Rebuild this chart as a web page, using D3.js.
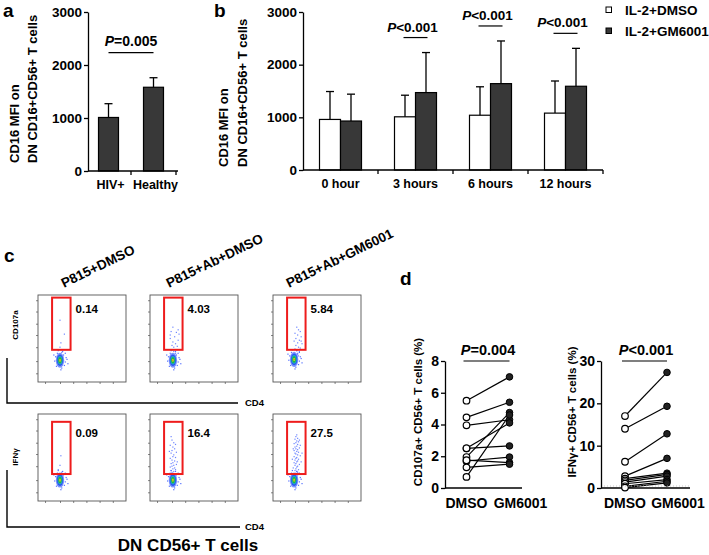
<!DOCTYPE html>
<html><head><meta charset="utf-8">
<script src="https://cdn.jsdelivr.net/npm/d3@7"></script>
<style>
body{margin:0;background:#fff}
svg text{font-family:"Liberation Sans",Arial,sans-serif;font-weight:bold;fill:#000}
</style></head><body>
<svg id="chart" width="709" height="555"></svg>
<script>
// ---------- DATA ----------
// panel a
const groupsA = ["HIV+", "Healthy"];
const meanA = [1010, 1580];
const errA = [1270, 1760];
const pA = "=0.005";
const yTicksAB = [0, 1000, 2000, 3000];
// panel b
const timesB = ["0 hour", "3 hours", "6 hours", "12 hours"];
const seriesB = ["IL-2+DMSO", "IL-2+GM6001"];
const dmsoMeanB = [960, 1010, 1040, 1080];
const dmsoErrB = [1490, 1420, 1580, 1690];
const gmMeanB = [930, 1470, 1640, 1590];
const gmErrB = [1440, 2230, 2450, 2310];
const pB = [null, "<0.001", "<0.001", "<0.001"];
// panel c
const flowCols = ["P815+DMSO", "P815+Ab+DMSO", "P815+Ab+GM6001"];
const flowRows = ["CD107a", "IFNγ"];
const gatePct = [["0.14", "4.03", "5.84"], ["0.09", "16.4", "27.5"]];
const gateXRange = [16, 37];
const gateYRange = [[37, 97], [31, 91]];
const blobCenters = [[[25, 25], [26, 25], [24, 26]], [[25, 24], [26, 24], [24, 24]]];
const blobSpread = [[-5,4],[4,6],[6,-2],[-4,-7],[7,3],[2,-9],[-6,-1],[3,10],[8,1],[-2,11],[1,-11],[9,-4],[-7,6],[5,-6],[-3,8],[6,8]];
const flowXTicks = [8, 25, 40, 55, 70, 85];
const flowYTicks = [10, 24, 40, 54, 67, 81, 94];
const events = [
  [
    [[25,71],[30,55],[26,45],[25,40],[23,37],[27,34]],
    [[26,63],[24,58],[30,57],[33,55],[28,52],[23,50],[32,48],[26,46],[29,44],[25,42],[31,41],[27,40],[26,37],[23,54],[32,60],[27,35],[29,33],[24,31]],
    [[27,63],[29,60],[31,58],[25,56],[28,54],[32,52],[26,50],[30,48],[24,47],[28,45],[33,44],[26,42],[29,40],[31,39],[25,38],[27,36],[30,35],[24,34],[28,33],[26,31],[29,30],[32,47]]
  ],
  [
    [[26,52],[25,41],[23,36],[27,33]],
    [[24,74],[25,70],[27,67],[23,64],[26,62],[28,60],[25,58],[30,56],[24,55],[27,53],[26,51],[29,50],[23,49],[25,47],[28,46],[26,44],[24,43],[30,42],[27,41],[25,40],[23,39],[28,38],[26,37],[29,36],[24,35],[27,34],[25,33],[31,45],[22,57],[29,65]],
    [[27,76],[26,74],[28,72],[25,71],[27,69],[29,68],[26,67],[24,66],[28,65],[27,63],[25,62],[30,61],[26,60],[28,59],[24,58],[27,57],[29,56],[25,55],[26,54],[28,53],[31,52],[24,51],[27,50],[26,49],[29,48],[25,47],[28,46],[27,45],[24,44],[26,43],[30,42],[25,41],[28,40],[27,39],[23,38],[26,37],[29,36],[25,35],[27,34],[28,33],[26,32],[24,31],[33,55],[32,45],[22,48],[30,70],[31,64],[23,60]]
  ]
];
// panel d
const treatD = ["DMSO", "GM6001"];
const cd107Dmso = [5.5, 4.45, 3.95, 2.5, 2.5, 1.95, 0.7, 1.7, 1.75, 1.3];
const cd107Gm = [7.0, 5.4, 4.3, 2.65, 4.1, 4.75, 4.6, 1.95, 1.6, 1.5];
const ifnDmso = [17.0, 14.0, 6.2, 2.8, 2.2, 1.8, 1.4, 1.0, 0.4, 0.1];
const ifnGm = [27.3, 19.3, 12.8, 7.0, 3.5, 3.2, 2.8, 2.0, 1.6, 1.2];
const yTicksD1 = [0, 2, 4, 6, 8];
const yTicksD2 = [0, 10, 20, 30];
const pD = ["=0.004", "<0.001"];

// ---------- DRAW ----------
const svg = d3.select("#chart");
svg.append("rect").attr("width", 709).attr("height", 555).attr("fill", "#fff");
const DARK = "#383838";
const fmt = d3.format("d");

function styleAxis(g, fs) {
  g.select(".domain").attr("stroke", "#000").attr("stroke-width", 1.3);
  g.selectAll(".tick line").attr("stroke", "#000").attr("stroke-width", 1.3);
  g.selectAll(".tick text").attr("font-size", fs).attr("fill", "#000");
}
function pText(g, x, y, s, fs) {
  const t = g.append("text").attr("x", x).attr("y", y).attr("text-anchor", "middle").attr("font-size", fs);
  t.append("tspan").attr("font-style", "italic").text("P");
  t.append("tspan").text(s);
}
function panelLabel(x, y, s) {
  svg.append("text").attr("x", x).attr("y", y).attr("font-size", 19).text(s);
}
function rotLabel(g, x, y, s, fs, anchor) {
  g.append("text").attr("transform", `translate(${x},${y}) rotate(-90)`)
    .attr("text-anchor", anchor).attr("font-size", fs).text(s);
}

// ----- Panel a -----
const gA = svg.append("g");
const yA = d3.scaleLinear().domain([0, 3000]).range([171, 12]);
const xA = d3.scaleBand().domain(groupsA).range([86, 176]).paddingInner(0.556).paddingOuter(0.278);
panelLabel(3, 17, "a");
rotLabel(gA, 19, 163, "CD16 MFI on", 13, "start");
rotLabel(gA, 37, 163, "DN CD16+CD56+ T cells", 13, "start");
gA.selectAll("rect.bar").data(groupsA).join("rect").attr("class", "bar")
  .attr("x", d => xA(d)).attr("y", (d, i) => yA(meanA[i]))
  .attr("width", xA.bandwidth()).attr("height", (d, i) => yA(0) - yA(meanA[i]))
  .attr("fill", DARK).attr("stroke", "#000").attr("stroke-width", 1.2);
groupsA.forEach((d, i) => {
  const cx = xA(d) + xA.bandwidth() / 2;
  gA.append("line").attr("x1", cx).attr("x2", cx).attr("y1", yA(meanA[i])).attr("y2", yA(errA[i])).attr("stroke", "#000").attr("stroke-width", 1.3);
  gA.append("line").attr("x1", cx - 4).attr("x2", cx + 4).attr("y1", yA(errA[i])).attr("y2", yA(errA[i])).attr("stroke", "#000").attr("stroke-width", 1.3);
  gA.append("text").attr("x", cx + 2).attr("y", 189).attr("text-anchor", "middle").attr("font-size", 12.5).text(d);
});
const axA = gA.append("g").attr("transform", "translate(88,0)")
  .call(d3.axisLeft(yA).tickValues(yTicksAB).tickFormat(fmt).tickSize(4).tickSizeOuter(0).tickPadding(2));
styleAxis(axA, 13.5);
gA.append("line").attr("x1", 88).attr("x2", 178).attr("y1", yA(0)).attr("y2", yA(0)).attr("stroke", "#000").attr("stroke-width", 1.3);
groupsA.forEach(d => {
  const bx = xA(d) + xA.step() * (1 - xA.paddingInner() / 2);
  gA.append("line").attr("x1", bx).attr("x2", bx).attr("y1", yA(0)).attr("y2", yA(0) + 4).attr("stroke", "#000").attr("stroke-width", 1.3);
});
{
  const c0 = xA(groupsA[0]) + xA.bandwidth() / 2, c1 = xA(groupsA[1]) + xA.bandwidth() / 2;
  const ly = yA(d3.max(errA)) - 25;
  gA.append("line").attr("x1", c0).attr("x2", c1).attr("y1", ly).attr("y2", ly).attr("stroke", "#000").attr("stroke-width", 1.2);
  pText(gA, (c0 + c1) / 2, ly - 7, pA, 14);
}

// ----- Panel b -----
const gB = svg.append("g");
const yB = d3.scaleLinear().domain([0, 3000]).range([170, 12]);
const xB0 = d3.scaleBand().domain(timesB).range([303, 603]);
const xB1 = d3.scaleBand().domain(seriesB).range([0, 42]);
const offB = (xB0.bandwidth() - 42) / 2;
panelLabel(214, 17, "b");
rotLabel(gB, 228, 167, "CD16 MFI on", 13, "start");
rotLabel(gB, 247, 167, "DN CD16+CD56+ T cells", 13, "start");
const seriesMean = [dmsoMeanB, gmMeanB], seriesErr = [dmsoErrB, gmErrB], seriesFill = ["#fff", DARK];
timesB.forEach((t, ti) => {
  seriesB.forEach((s, si) => {
    const x = xB0(t) + offB + xB1(s);
    gB.append("rect").attr("x", x).attr("y", yB(seriesMean[si][ti])).attr("width", xB1.bandwidth())
      .attr("height", yB(0) - yB(seriesMean[si][ti])).attr("fill", seriesFill[si]).attr("stroke", "#000").attr("stroke-width", 1.2);
    const cx = x + xB1.bandwidth() / 2;
    gB.append("line").attr("x1", cx).attr("x2", cx).attr("y1", yB(seriesMean[si][ti])).attr("y2", yB(seriesErr[si][ti])).attr("stroke", "#000").attr("stroke-width", 1.3);
    gB.append("line").attr("x1", cx - 4).attr("x2", cx + 4).attr("y1", yB(seriesErr[si][ti])).attr("y2", yB(seriesErr[si][ti])).attr("stroke", "#000").attr("stroke-width", 1.3);
  });
  const gc = xB0(t) + xB0.bandwidth() / 2;
  gB.append("text").attr("x", gc).attr("y", 188).attr("text-anchor", "middle").attr("font-size", 12.5).text(t);
  gB.append("line").attr("x1", xB0(t) + xB0.step()).attr("x2", xB0(t) + xB0.step()).attr("y1", yB(0)).attr("y2", yB(0) + 4).attr("stroke", "#000").attr("stroke-width", 1.3);
  if (pB[ti]) {
    const ly = yB(gmErrB[ti]) - 15;
    gB.append("line").attr("x1", gc - 12).attr("x2", gc + 12).attr("y1", ly).attr("y2", ly).attr("stroke", "#000").attr("stroke-width", 1.2);
    pText(gB, gc - 3, ly - 6, pB[ti], 13.5);
  }
});
const axB = gB.append("g").attr("transform", "translate(303,0)")
  .call(d3.axisLeft(yB).tickValues(yTicksAB).tickFormat(fmt).tickSize(4).tickSizeOuter(0).tickPadding(2));
styleAxis(axB, 13.5);
gB.append("line").attr("x1", 303).attr("x2", 603).attr("y1", yB(0)).attr("y2", yB(0)).attr("stroke", "#000").attr("stroke-width", 1.3);
// legend
seriesB.forEach((s, si) => {
  const ly = 7 + si * 21;
  gB.append("rect").attr("x", 606).attr("y", ly).attr("width", 5.5).attr("height", 5.5).attr("fill", seriesFill[si]).attr("stroke", "#000").attr("stroke-width", 1);
  gB.append("text").attr("x", 625).attr("y", ly + 7.5).attr("font-size", 13.5).text(s);
});

// ----- Panel c -----
const gC = svg.append("g");
panelLabel(4, 262, "c");
const colX = [38, 150, 273], rowY = [295, 414], boxW = 88, boxH = 87;
flowCols.forEach((name, ci) => {
  gC.append("text").attr("transform", `translate(${colX[ci] + [26, 19, 16][ci]},288) rotate(-26)`)
    .attr("font-size", 13.5).text(name);
});
flowRows.forEach((rname, ri) => {
  flowCols.forEach((cname, ci) => {
    const bx = colX[ci], by = rowY[ri];
    const fx = d3.scaleLinear().domain([0, 100]).range([bx, bx + boxW]);
    const fy = d3.scaleLinear().domain([0, 100]).range([by + boxH, by]);
    const g = gC.append("g");
    const axL = g.append("g").attr("transform", `translate(${bx},0)`)
      .call(d3.axisLeft(fy).tickValues(flowYTicks).tickSize(2).tickFormat(""));
    const axBt = g.append("g").attr("transform", `translate(0,${by + boxH})`)
      .call(d3.axisBottom(fx).tickValues(flowXTicks).tickSize(2).tickFormat(""));
    [axL, axBt].forEach(a => { a.select(".domain").remove(); a.selectAll("line").attr("stroke", "#666").attr("stroke-width", 0.8); });
    g.append("rect").attr("x", bx).attr("y", by).attr("width", boxW).attr("height", boxH)
      .attr("fill", "none").attr("stroke", "#555").attr("stroke-width", 0.9);
    const [cxp, cyp] = blobCenters[ri][ci];
    g.selectAll("rect.sp").data(blobSpread).join("rect").attr("class", "sp")
      .attr("x", d => fx(cxp + d[0]) - 0.6).attr("y", d => fy(cyp + d[1]) - 0.6)
      .attr("width", 1.2).attr("height", 1.2).attr("fill", "#5470ff");
    g.selectAll("rect.ev").data(events[ri][ci]).join("rect").attr("class", "ev")
      .attr("x", d => fx(d[0]) - 0.6).attr("y", d => fy(d[1]) - 0.6)
      .attr("width", 1.2).attr("height", 1.2).attr("fill", "#4a66ff").attr("opacity", 0.8);
    const bcx = fx(cxp), bcy = fy(cyp);
    [[4.2, 7.5, "#7a93ff"], [3.2, 5.8, "#2a55f0"], [2.4, 4.3, "#1fa6c8"], [1.7, 3.1, "#22b83a"], [0.9, 1.6, "#d8e020"], [0.4, 0.7, "#e03020"]]
      .forEach(([rx, ry, col]) => g.append("ellipse").attr("cx", bcx).attr("cy", bcy).attr("rx", rx).attr("ry", ry).attr("fill", col));
    const gy = gateYRange[ri];
    g.append("rect").attr("x", fx(gateXRange[0])).attr("y", fy(gy[1]))
      .attr("width", fx(gateXRange[1]) - fx(gateXRange[0])).attr("height", fy(gy[0]) - fy(gy[1]))
      .attr("fill", "none").attr("stroke", "#ee1c1c").attr("stroke-width", 2);
    g.append("text").attr("x", fx(gateXRange[1]) + 5).attr("y", fy(gy[1]) + 15)
      .attr("font-size", 11.5).text(gatePct[ri][ci]);
  });
  const vy0 = [358, 470][ri], hy = [403, 527][ri];
  gC.append("path").attr("d", `M7,${vy0}V${hy}H${[238, 240][ri]}`).attr("fill", "none").attr("stroke", "#000").attr("stroke-width", 1.4);
  gC.append("text").attr("x", 245).attr("y", hy + 3).attr("font-size", 9.5).text("CD4");
  rotLabel(gC, 17.5, [325, 457][ri], rname, 8, "middle");
});
gC.append("text").attr("x", 188).attr("y", 551).attr("text-anchor", "middle").attr("font-size", 17).text("DN CD56+ T cells");

// ----- Panel d -----
const gD = svg.append("g");
panelLabel(400, 285, "d");
function pairedPlot(axisX, axisEnd, ptRange, yDom, yTicks, dmso, gm, ylabel, ylabX, p) {
  const y = d3.scaleLinear().domain(yDom).range([488, 361]);
  const x = d3.scalePoint().domain(treatD).range(ptRange).padding(0.5);
  const ax = gD.append("g").attr("transform", `translate(${axisX},0)`)
    .call(d3.axisLeft(y).tickValues(yTicks).tickFormat(fmt).tickSize(4).tickSizeOuter(0).tickPadding(2));
  styleAxis(ax, 14);
  gD.append("line").attr("x1", axisX).attr("x2", axisEnd).attr("y1", 488).attr("y2", 488).attr("stroke", "#000").attr("stroke-width", 1.3);
  dmso.forEach((v, i) => {
    gD.append("line").attr("x1", x("DMSO")).attr("y1", y(v)).attr("x2", x("GM6001")).attr("y2", y(gm[i]))
      .attr("stroke", "#000").attr("stroke-width", 1.2);
  });
  gD.selectAll(null).data(gm).join("circle").attr("cx", x("GM6001")).attr("cy", d => y(d)).attr("r", 3.3)
    .attr("fill", "#222").attr("stroke", "#000").attr("stroke-width", 1);
  gD.selectAll(null).data(dmso).join("circle").attr("cx", x("DMSO")).attr("cy", d => y(d)).attr("r", 3.3)
    .attr("fill", "#fff").attr("stroke", "#000").attr("stroke-width", 1.2);
  gD.append("text").attr("x", x("DMSO")).attr("y", 508).attr("text-anchor", "middle").attr("font-size", 14).text("DMSO");
  gD.append("text").attr("x", x("GM6001") + 11).attr("y", 508).attr("text-anchor", "middle").attr("font-size", 14).text("GM6001");
  gD.append("line").attr("x1", x("DMSO") - 3).attr("x2", x("GM6001")).attr("y1", y(yDom[1])).attr("y2", y(yDom[1]))
    .attr("stroke", "#000").attr("stroke-width", 1.2);
  pText(gD, (x("DMSO") + x("GM6001")) / 2, y(yDom[1]) - 6, p, 14.5);
  rotLabel(gD, ylabX, 412, ylabel, 11.5, "middle");
}
pairedPlot(445, 522, [445, 531], [0, 8], yTicksD1, cd107Dmso, cd107Gm, "CD107a+ CD56+ T cells (%)", 422, pD[0]);
pairedPlot(601, 690, [604, 688], [0, 30], yTicksD2, ifnDmso, ifnGm, "IFNγ+ CD56+ T cells (%)", 576, pD[1]);
gD.append("line").attr("x1", 604).attr("x2", 690).attr("y1", 486).attr("y2", 486).attr("stroke", "#bbb").attr("stroke-width", 0.8).attr("stroke-dasharray", "1,2");
</script>
</body></html>
